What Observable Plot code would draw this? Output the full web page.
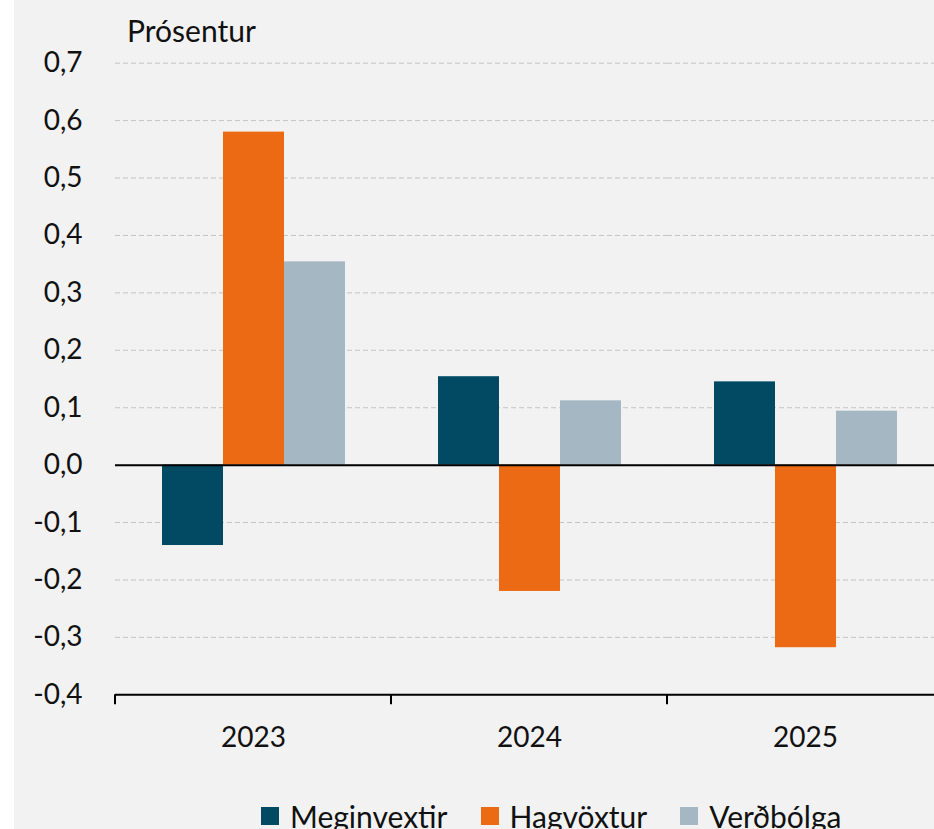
<!DOCTYPE html>
<html>
<head>
<meta charset="utf-8">
<script src="https://cdn.jsdelivr.net/npm/d3@7"></script>
<script src="https://cdn.jsdelivr.net/npm/@observablehq/plot@0.6"></script>
<style>
  html, body { margin: 0; padding: 0; background: #ffffff; }
  #wrap { position: relative; margin-left: 14px; width: 920px; height: 829px; background: #f2f2f2; overflow: hidden; font-family: Lato, sans-serif; color: #111; }
  #ylabel { position: absolute; left: 113px; top: 15px; font-size: 30px; line-height: 1; white-space: nowrap; }
  #chart { position: absolute; left: 0; top: 48px; }
  #legend { position: absolute; left: 247px; top: 798px; }
  .lg-swatches { font-family: Lato, sans-serif !important; font-size: 30px !important; color: #111; margin: 0 !important; min-height: 0 !important; }
  .lg-swatch { margin-right: 33px !important; }
  .lg-swatch > svg { margin-right: 11px !important; }
</style>
</head>
<body>
<div id="wrap">
  <div id="ylabel"></div>
  <div id="chart"></div>
  <div id="legend"></div>
</div>
<script>
const years = ["2023", "2024", "2025"];
const series = ["Meginvextir", "Hagvöxtur", "Verðbólga"];
const meginvextir = [-0.14, 0.154, 0.145];
const hagvoxtur = [0.58, -0.22, -0.318];
const verdbolga = [0.354, 0.112, 0.094];
const colors = ["#024a63", "#ec6a14", "#a5b7c3"];
const yTicks = [-0.4, -0.3, -0.2, -0.1, 0, 0.1, 0.2, 0.3, 0.4, 0.5, 0.6, 0.7];
const yLabel = "Prósentur";

const valuesBySeries = [meginvextir, hagvoxtur, verdbolga];
const rows = [];
years.forEach((yr, i) => {
  series.forEach((s, j) => rows.push({year: yr, series: s, value: valuesBySeries[j][i]}));
});

const fmt = d => d.toFixed(1).replace(".", ",").replace("-0,0", "0,0");

const chart = Plot.plot({
  width: 920,
  height: 742,
  marginLeft: 101,
  marginRight: -9,
  marginTop: 14.7,
  marginBottom: 95.7,
  style: {background: "transparent", fontFamily: "Lato, sans-serif", color: "#111", overflow: "visible"},
  fx: {domain: years, padding: 0},
  x: {domain: series, axis: null, paddingInner: 0, paddingOuter: 0.75},
  y: {domain: [-0.4, 0.7], axis: null},
  color: {domain: series, range: colors},
  marks: [
    Plot.gridY(yTicks, {stroke: "#c4c4c4", strokeOpacity: 1, strokeWidth: 1, strokeDasharray: "5,3"}),
    Plot.barY(rows, {fx: "year", x: "series", y: "value", fill: "series"}),
    Plot.ruleY([0], {stroke: "#000", strokeWidth: 2}),
    Plot.ruleY([-0.4], {stroke: "#000", strokeWidth: 2}),
    Plot.axisY(yTicks, {tickSize: 0, tickPadding: 33, tickFormat: fmt, fontSize: 28, label: null}),
    Plot.axisFx({anchor: "bottom", tickSize: 0, tickPadding: 32, fontSize: 28, label: null})
  ]
});

// category boundary tick marks on the x axis, positioned with the plot's own scales
const fxs = chart.scale("fx");
const ys = chart.scale("y");
const svg = d3.select(chart);
const y0 = ys.apply(-0.4);
[...years.map(d => fxs.apply(d)), fxs.apply(years[years.length - 1]) + fxs.bandwidth].forEach(x => {
  svg.append("line").attr("x1", x).attr("x2", x).attr("y1", y0).attr("y2", y0 + 10)
    .attr("stroke", "#000").attr("stroke-width", 2);
});

document.getElementById("chart").appendChild(chart);
document.getElementById("ylabel").textContent = yLabel;

const legend = Plot.legend({
  color: {domain: series, range: colors},
  swatchSize: 18,
  className: "lg"
});
document.getElementById("legend").appendChild(legend);
</script>
</body>
</html>
